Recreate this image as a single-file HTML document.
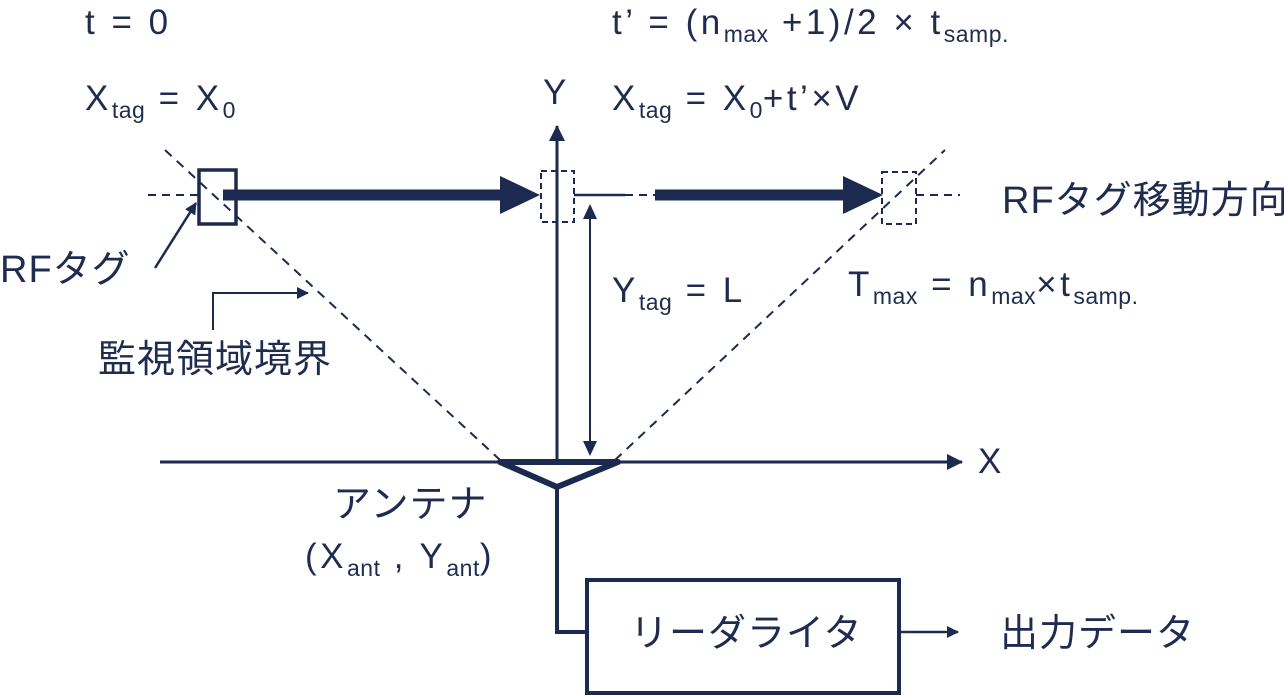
<!DOCTYPE html>
<html><head><meta charset="utf-8"><style>
html,body{margin:0;padding:0;background:#fff;}
svg{display:block;}
text{font-family:"Liberation Sans","Noto Sans CJK JP",sans-serif;fill:#1f2c4f;font-size:35px;letter-spacing:3.5px;}
.s{font-size:23px;letter-spacing:0.5px;}
.j{font-size:38px;letter-spacing:1px;}
</style></head><body>
<svg width="1284" height="696" viewBox="0 0 1284 696" xmlns="http://www.w3.org/2000/svg">
<defs>
<marker id="a" markerWidth="12" markerHeight="12" refX="11" refY="6" orient="auto" markerUnits="userSpaceOnUse"><path d="M0,0 L12,6 L0,12 Z" fill="#1b2a4e"/></marker>
<marker id="b" markerWidth="16" markerHeight="16" refX="15" refY="8" orient="auto" markerUnits="userSpaceOnUse"><path d="M0,0 L16,8 L0,16 Z" fill="#1b2a4e"/></marker>
</defs>
<g stroke="#1b2a4e" fill="none">
<line x1="148" y1="195" x2="198" y2="195" stroke-width="2" stroke-dasharray="8,6"/>
<line x1="574" y1="195" x2="625" y2="195" stroke-width="2.5"/>
<line x1="625" y1="195" x2="655" y2="195" stroke-width="2" stroke-dasharray="8,6"/>
<line x1="916" y1="195" x2="960" y2="195" stroke-width="2" stroke-dasharray="8,6"/>
<line x1="165" y1="150" x2="500" y2="460" stroke-width="2" stroke-dasharray="9,7"/>
<line x1="615" y1="460" x2="945" y2="150" stroke-width="2" stroke-dasharray="9,7"/>
<rect x="199" y="170" width="37" height="54" stroke-width="3.5"/>
<rect x="541" y="171" width="33" height="51" stroke-width="2" stroke-dasharray="6,4"/>
<rect x="882" y="172" width="34" height="52" stroke-width="2" stroke-dasharray="6,4"/>
<line x1="223" y1="195" x2="502" y2="195" stroke-width="11"/>
<line x1="655" y1="195" x2="848" y2="195" stroke-width="11"/>
<line x1="557" y1="462" x2="557" y2="126" stroke-width="3" marker-end="url(#b)"/>
<line x1="590" y1="215" x2="590" y2="443" stroke-width="2"/>
<line x1="160" y1="462" x2="962" y2="462" stroke-width="3" marker-end="url(#b)"/>
<path d="M500,462 L618,462 L557,487 Z" stroke-width="6" stroke-linejoin="round"/>
<polyline points="557,487 557,632 587,632" stroke-width="4"/>
<rect x="587" y="580" width="312" height="113" stroke-width="4"/>
<line x1="899" y1="632" x2="958" y2="632" stroke-width="2.5" marker-end="url(#a)"/>
<line x1="155" y1="268" x2="196" y2="203" stroke-width="2.5" marker-end="url(#a)"/>
<polyline points="213,330 213,293 308,293" stroke-width="2" marker-end="url(#a)"/>
</g>
<g fill="#1b2a4e">
<path d="M500,176 L540,195 L500,214 Z"/>
<path d="M843,176 L883,195 L843,214 Z"/>
<path d="M590,204 L583,219 L597,219 Z"/>
<path d="M590,456 L583,441 L597,441 Z"/>
</g>
<text x="85" y="34">t = 0</text>
<text x="85" y="110">X<tspan class="s" dy="8">tag</tspan><tspan dy="-8"> = X</tspan><tspan class="s" dy="8">0</tspan></text>
<text x="543" y="104">Y</text>
<text x="612" y="34">t’ = (n<tspan class="s" dy="8">max</tspan><tspan dy="-8"> +1)/2 × t</tspan><tspan class="s" dy="8">samp.</tspan></text>
<text x="612" y="110">X<tspan class="s" dy="8">tag</tspan><tspan dy="-8"> = X</tspan><tspan class="s" dy="8">0</tspan><tspan dy="-8">+t’×V</tspan></text>
<text class="j" x="1002" y="213">RFタグ移動方向</text>
<text class="j" x="0" y="282">RFタグ</text>
<text x="612" y="302">Y<tspan class="s" dy="8">tag</tspan><tspan dy="-8"> = L</tspan></text>
<text x="848" y="296">T<tspan class="s" dy="8">max</tspan><tspan dy="-8"> = n</tspan><tspan class="s" dy="8">max</tspan><tspan dy="-8">×t</tspan><tspan class="s" dy="8">samp.</tspan></text>
<text class="j" x="98" y="372">監視領域境界</text>
<text x="978" y="473">X</text>
<text class="j" x="333" y="517">アンテナ</text>
<text x="305" y="568">(X<tspan class="s" dy="8">ant</tspan><tspan dy="-8"> , Y</tspan><tspan class="s" dy="8">ant</tspan><tspan dy="-8">)</tspan></text>
<text class="j" x="630" y="646">リーダライタ</text>
<text class="j" x="1000" y="646">出力データ</text>
</svg>
</body></html>
